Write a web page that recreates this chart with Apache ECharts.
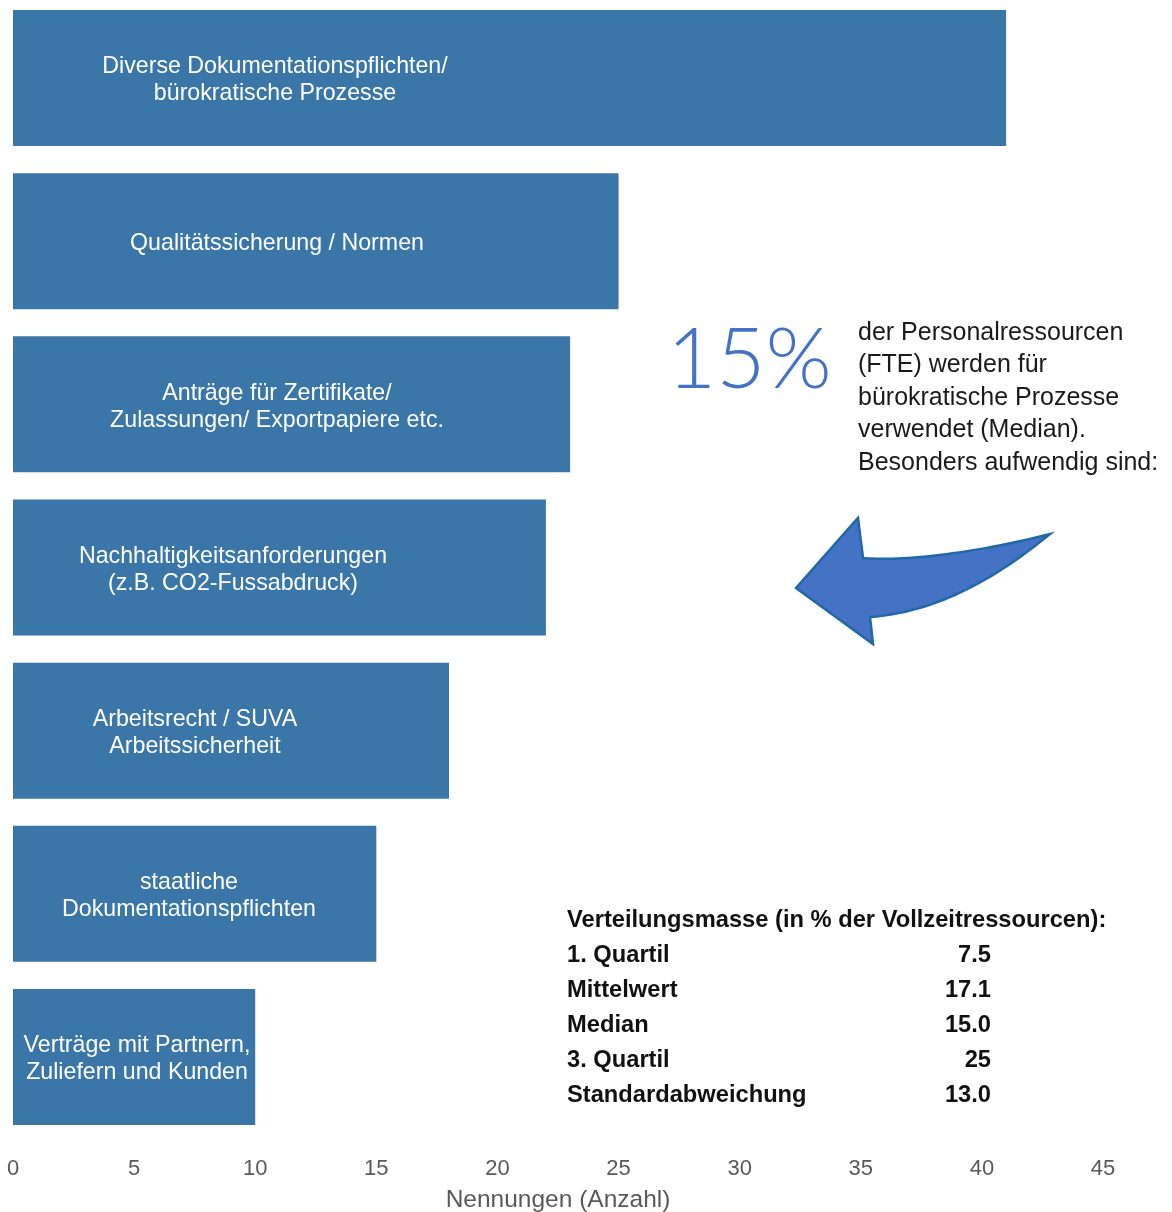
<!DOCTYPE html>
<html>
<head>
<meta charset="utf-8">
<script src="https://cdn.jsdelivr.net/npm/echarts@6/dist/echarts.min.js"></script>
<style>
html,body{margin:0;padding:0;background:#fff;overflow:hidden;}
#c{width:1172px;height:1212px;}
</style>
</head>
<body>
<div id="c"></div>
<script>
const categories = [
  'Diverse Dokumentationspflichten/\nbürokratische Prozesse',
  'Qualitätssicherung / Normen',
  'Anträge für Zertifikate/\nZulassungen/ Exportpapiere etc.',
  'Nachhaltigkeitsanforderungen\n(z.B. CO2-Fussabdruck)',
  'Arbeitsrecht / SUVA\nArbeitssicherheit',
  'staatliche\nDokumentationspflichten',
  'Verträge mit Partnern,\nZuliefern und Kunden'
];
const values = [41, 25, 23, 22, 18, 15, 10];
const xTicks = [0, 5, 10, 15, 20, 25, 30, 35, 40, 45];
const statLabels = ['1. Quartil', 'Mittelwert', 'Median', '3. Quartil', 'Standardabweichung'];
const statValues = ['7.5', '17.1', '15.0', '25', '13.0'];
const headline = '15%';
const noteLines = ['der Personalressourcen', '(FTE) werden für', 'bürokratische Prozesse', 'verwendet (Median).', 'Besonders aufwendig sind:'];

// label horizontal centre within each bar (style only)
const labelCenterX = [262, 264, 264, 220, 182, 176, 124];

const FONT = '"Liberation Sans", Arial, sans-serif';
const chart = echarts.init(document.getElementById('c'), null, { width: 1172, height: 1212 });

function bez(p0, p1, p2, p3, n) {
  const out = [];
  for (let k = 1; k <= n; k++) {
    const t = k / n, u = 1 - t;
    out.push([
      u*u*u*p0[0] + 3*u*u*t*p1[0] + 3*u*t*t*p2[0] + t*t*t*p3[0],
      u*u*u*p0[1] + 3*u*u*t*p1[1] + 3*u*t*t*p2[1] + t*t*t*p3[1]
    ]);
  }
  return out;
}
const arrowPts = [[796,588],[858,518],[863,558]]
  .concat(bez([863,558],[905,562],[980,552],[1050,534],30))
  .concat(bez([1050,534],[1000,575],[940,612],[870,617],30))
  .concat([[873,644]]);

const graphics = [];
graphics.push({
  type: 'text', x: 667, y: 361,
  style: { text: headline, font: '300 85px Lato, sans-serif', fill: '#4472c4', verticalAlign: 'middle' }
});
noteLines.forEach((t, i) => {
  graphics.push({
    type: 'text', x: 858, y: 333 + i * 32.5,
    style: { text: t, font: '25px ' + FONT, fill: '#1a1a1a', verticalAlign: 'middle' }
  });
});
const boldFont = 'bold 23.7px ' + FONT;
graphics.push({
  type: 'text', x: 567, y: 920.5,
  style: { text: 'Verteilungsmasse (in % der Vollzeitressourcen):', font: boldFont, fill: '#111', verticalAlign: 'middle' }
});
statLabels.forEach((t, i) => {
  graphics.push({
    type: 'text', x: 567, y: 955 + i * 35,
    style: { text: t, font: boldFont, fill: '#111', verticalAlign: 'middle' }
  });
  graphics.push({
    type: 'text', x: 991, y: 955 + i * 35,
    style: { text: statValues[i], font: boldFont, fill: '#111', align: 'right', verticalAlign: 'middle' }
  });
});
graphics.push({
  type: 'polygon',
  shape: { points: arrowPts },
  style: { fill: '#4472c4', stroke: '#2068a8', lineWidth: 2.5, lineJoin: 'miter' }
});

chart.setOption({
  animation: false,
  backgroundColor: '#fff',
  grid: { left: 13, right: 69, top: -3.6, bottom: 73.4, containLabel: false, outerBoundsMode: 'none' },
  xAxis: {
    type: 'value', min: 0, max: 45, interval: 5,
    axisLine: { show: false }, axisTick: { show: false }, splitLine: { show: false },
    axisLabel: {
      margin: 19, color: '#595959', fontSize: 22, fontFamily: FONT,
      formatter: v => xTicks.includes(v) ? String(v) : ''
    },
    name: 'Nennungen (Anzahl)', nameLocation: 'middle', nameGap: 49,
    nameTextStyle: { color: '#595959', fontSize: 24.5, fontFamily: FONT }
  },
  yAxis: {
    type: 'category', inverse: true, data: categories,
    axisLine: { show: false }, axisTick: { show: false }, axisLabel: { show: false }, splitLine: { show: false }
  },
  series: [{
    type: 'bar',
    barCategoryGap: '16.65%',
    itemStyle: { color: '#3a76a8' },
    data: values.map((v, i) => ({
      value: v,
      label: {
        show: true, position: [labelCenterX[i], '50%'], align: 'center', verticalAlign: 'middle',
        offset: [0, 2.5],
        formatter: () => categories[i],
        color: '#fff', fontSize: 23.2, lineHeight: 27, fontFamily: FONT
      }
    }))
  }],
  graphic: graphics
});
</script>
</body>
</html>
